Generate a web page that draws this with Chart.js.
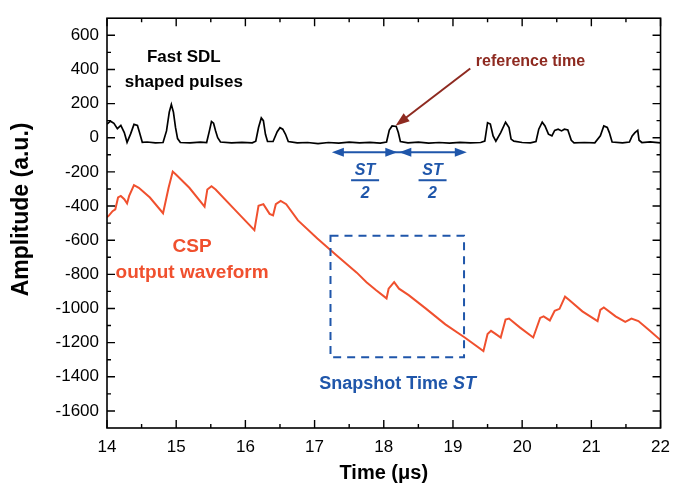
<!DOCTYPE html>
<html>
<head>
<meta charset="utf-8">
<script src="https://cdn.jsdelivr.net/npm/chart.js@4.4.1/dist/chart.umd.min.js"></script>
<style>
html, body { margin: 0; padding: 0; background: #fff; }
</style>
</head>
<body>
<canvas id="myChart" width="679" height="487"></canvas>
<script>
// Dados (tempo em µs, amplitude em u.a.)
const sdlTime = [14.00, 14.05, 14.10, 14.15, 14.20, 14.25, 14.29, 14.34, 14.39, 14.44, 14.47, 14.51, 14.58, 14.70, 14.81, 14.86, 14.90, 14.93, 14.96, 14.99, 15.02, 15.06,
    15.20, 15.35, 15.44, 15.48, 15.51, 15.54, 15.57, 15.60, 15.64, 15.80, 15.95, 16.10, 16.15, 16.19, 16.23, 16.26, 16.29, 16.32, 16.40, 16.46, 16.50, 16.54, 16.58,
    16.62, 16.75, 16.90, 17.05, 17.20, 17.35, 17.50, 17.65, 17.80, 17.95, 18.04, 18.08, 18.12, 18.18, 18.21, 18.24, 18.35, 18.50, 18.65, 18.80,
    18.95, 19.10, 19.25, 19.40, 19.46, 19.50, 19.54, 19.58, 19.62, 19.69, 19.76, 19.81, 19.84, 19.88, 20.00, 20.12, 20.20, 20.24, 20.29, 20.33,
    20.38, 20.43, 20.47, 20.52, 20.57, 20.61, 20.66, 20.71, 20.75, 20.90, 21.05, 21.13, 21.18, 21.23, 21.26, 21.30, 21.45, 21.55, 21.59, 21.63,
    21.67, 21.69, 21.73, 21.85, 22.00];
const sdlValues = [80, 97, 84, 53, 72, 30, -27, 21, 78, 72, 30, -27, -25, -30, -28, 40, 150, 195, 150, 60, -5, -28,
    -30, -26, -28, 40, 95, 85, 40, 0, -25, -30, -27, -30, -20, 60, 116, 100, 20, -22, -22, 35, 59, 50, 20,
    -22, -30, -28, -35, -28, -32, -26, -30, -27, -32, -25, 45, 69, 66, 30, -22, -30, -26, -32, -28,
    -32, -27, -30, -28, -20, 88, 80, 11, -20, 30, 91, 59, -8, -20, -28, -30, -22, 50, 91, 69,
    21, 11, 43, 50, 40, 50, 45, -15, -30, -28, -30, 11, 69, 60, 30, -25, -30, -25, 11, 30,
    43, -15, -28, -24, -30];

const cspTime = [14.00, 14.03, 14.08, 14.12, 14.16, 14.20, 14.25, 14.29, 14.32, 14.39, 14.46, 14.62, 14.81, 14.89, 14.95, 15.00, 15.19, 15.41, 15.45, 15.51,
    15.57, 15.86, 16.13, 16.19, 16.26, 16.35, 16.40, 16.44, 16.51, 16.59, 16.76, 17.04, 17.32, 17.61, 17.75, 17.89, 18.04, 18.07, 18.15, 18.22,
    18.36, 18.60, 18.89, 19.17, 19.44, 19.50, 19.55, 19.62, 19.69, 19.76, 19.81, 19.97, 20.16, 20.26, 20.31, 20.40, 20.47, 20.54, 20.62, 20.68,
    20.87, 21.09, 21.13, 21.18, 21.35, 21.49, 21.58, 21.68, 21.82, 22.00];
const cspValues = [-465, -455, -430, -420, -350, -341, -360, -385, -341, -278, -293, -350, -442, -293, -198, -217, -293, -404, -303, -284,
    -303, -427, -541, -398, -389, -446, -455, -389, -370, -389, -484, -590, -690, -790, -846, -893, -941, -884, -846, -884,
    -922, -998, -1093, -1170, -1250, -1150, -1131, -1150, -1170, -1065, -1059, -1112, -1170, -1055, -1046, -1070, -1013, -1002, -931, -950,
    -1017, -1074, -1008, -994, -1046, -1078, -1059, -1074, -1122, -1185];

const xTicks = [14, 15, 16, 17, 18, 19, 20, 21, 22];
const yTicks = [600, 400, 200, 0, -200, -400, -600, -800, -1000, -1200, -1400, -1600];

const FONT = "'Liberation Sans', Arial, Helvetica, sans-serif";
const RED = '#f0502e';
const BLUE = '#1f56aa';
const BROWN = '#8e2a20';

function toPoints(xs, ys) {
    return xs.map((v, i) => ({ x: v, y: ys[i] }));
}

// Anotações (em coordenadas dos dados)
const notes = {
    sdl: { x: 15.11, y1: 470, y2: 322 },
    refText: { x: 19.33, y: 445 },
    refArrow: { x0: 19.25, y0: 405, x1: 18.17, y1: 70 },
    halves: { y: -85, x0: 17.25, xm: 18.21, x1: 19.2 },
    box: { x0: 17.23, x1: 19.16, y0: -574, y1: -1286 },
    snap: { x: 18.2, y: -1440 },
    csp: { x: 15.23, y1: -640, y2: -792 },
    yTitle: { y: -420 }
};

function arrowHead(ctx, x0, y0, x1, y1, len, half) {
    const ang = Math.atan2(y1 - y0, x1 - x0);
    ctx.beginPath();
    ctx.moveTo(x1, y1);
    ctx.lineTo(x1 - len * Math.cos(ang) + half * Math.sin(ang), y1 - len * Math.sin(ang) - half * Math.cos(ang));
    ctx.lineTo(x1 - len * Math.cos(ang) - half * Math.sin(ang), y1 - len * Math.sin(ang) + half * Math.cos(ang));
    ctx.closePath();
    ctx.fill();
}

function halfLabel(ctx, cx, y) {
    const ty = y.getPixelForValue(notes.halves.y);
    ctx.font = 'italic bold 16px ' + FONT;
    ctx.textAlign = 'center';
    ctx.textBaseline = 'middle';
    ctx.fillText('ST', cx, ty + 18);
    ctx.fillRect(cx - 14, ty + 27, 28, 2);
    ctx.fillText('2', cx, ty + 41);
}

const framePlugin = {
    id: 'framePlugin',
    afterDatasetsDraw(chart) {
        const { ctx, chartArea: a, scales: { x, y } } = chart;
        ctx.save();

        // caixa tracejada
        const b = notes.box;
        ctx.strokeStyle = BLUE;
        ctx.lineWidth = 2;
        ctx.setLineDash([8, 6]);
        ctx.strokeRect(x.getPixelForValue(b.x0), y.getPixelForValue(b.y0),
            x.getPixelForValue(b.x1) - x.getPixelForValue(b.x0), y.getPixelForValue(b.y1) - y.getPixelForValue(b.y0));
        ctx.setLineDash([]);

        // moldura
        ctx.strokeStyle = '#000';
        ctx.lineWidth = 1.6;
        ctx.strokeRect(a.left, a.top, a.right - a.left, a.bottom - a.top);

        // marcas para dentro
        ctx.lineWidth = 1.4;
        ctx.beginPath();
        for (let v = 14; v <= 22; v += 0.5) {
            const px = x.getPixelForValue(v);
            const len = Number.isInteger(v) ? 8 : 4;
            ctx.moveTo(px, a.bottom); ctx.lineTo(px, a.bottom - len);
            ctx.moveTo(px, a.top); ctx.lineTo(px, a.top + len);
        }
        for (let v = -1600; v <= 600; v += 100) {
            const py = y.getPixelForValue(v);
            const len = v % 200 === 0 ? 8 : 4;
            ctx.moveTo(a.left, py); ctx.lineTo(a.left + len, py);
            ctx.moveTo(a.right, py); ctx.lineTo(a.right - len, py);
        }
        ctx.stroke();

        // título do eixo y
        ctx.save();
        ctx.translate(22, y.getPixelForValue(notes.yTitle.y));
        ctx.rotate(-Math.PI / 2);
        ctx.fillStyle = '#000';
        ctx.font = 'bold 23px ' + FONT;
        ctx.textAlign = 'center';
        ctx.textBaseline = 'middle';
        ctx.fillText('Amplitude (a.u.)', 0, 0);
        ctx.restore();

        // textos
        ctx.textAlign = 'center';
        ctx.textBaseline = 'middle';
        ctx.fillStyle = '#000';
        ctx.font = 'bold 17px ' + FONT;
        ctx.fillText('Fast SDL', x.getPixelForValue(notes.sdl.x), y.getPixelForValue(notes.sdl.y1));
        ctx.fillText('shaped pulses', x.getPixelForValue(notes.sdl.x), y.getPixelForValue(notes.sdl.y2));

        ctx.fillStyle = RED;
        ctx.font = 'bold 19px ' + FONT;
        ctx.fillText('CSP', x.getPixelForValue(notes.csp.x), y.getPixelForValue(notes.csp.y1));
        ctx.fillText('output waveform', x.getPixelForValue(notes.csp.x), y.getPixelForValue(notes.csp.y2));

        ctx.fillStyle = BROWN;
        ctx.strokeStyle = BROWN;
        ctx.font = 'bold 16px ' + FONT;
        ctx.textAlign = 'left';
        ctx.fillText('reference time', x.getPixelForValue(notes.refText.x), y.getPixelForValue(notes.refText.y));
        const r = notes.refArrow;
        const rx0 = x.getPixelForValue(r.x0), ry0 = y.getPixelForValue(r.y0);
        const rx1 = x.getPixelForValue(r.x1), ry1 = y.getPixelForValue(r.y1);
        ctx.lineWidth = 2;
        ctx.beginPath(); ctx.moveTo(rx0, ry0); ctx.lineTo(rx1 + (rx0 - rx1) * 0.1, ry1 + (ry0 - ry1) * 0.1); ctx.stroke();
        arrowHead(ctx, rx0, ry0, rx1, ry1, 14, 5);

        // setas ST/2
        const h = notes.halves;
        const hy = y.getPixelForValue(h.y);
        const hx0 = x.getPixelForValue(h.x0), hxm = x.getPixelForValue(h.xm), hx1 = x.getPixelForValue(h.x1);
        ctx.fillStyle = BLUE;
        ctx.strokeStyle = BLUE;
        ctx.lineWidth = 2;
        ctx.beginPath(); ctx.moveTo(hx0 + 8, hy); ctx.lineTo(hx1 - 8, hy); ctx.stroke();
        arrowHead(ctx, hxm, hy, hx0, hy, 12, 4.5);
        arrowHead(ctx, hx0, hy, hxm - 1, hy, 12, 4.5);
        arrowHead(ctx, hx1, hy, hxm + 1, hy, 12, 4.5);
        arrowHead(ctx, hxm, hy, hx1, hy, 12, 4.5);
        halfLabel(ctx, (hx0 + hxm) / 2, y);
        halfLabel(ctx, (hxm + hx1) / 2, y);

        // Snapshot Time ST
        const sx = x.getPixelForValue(notes.snap.x), sy = y.getPixelForValue(notes.snap.y);
        ctx.textAlign = 'left';
        ctx.font = 'bold 18px ' + FONT;
        const w1 = ctx.measureText('Snapshot Time ').width;
        ctx.font = 'italic bold 18px ' + FONT;
        const w2 = ctx.measureText('ST').width;
        ctx.font = 'bold 18px ' + FONT;
        ctx.fillText('Snapshot Time ', sx - (w1 + w2) / 2, sy);
        ctx.font = 'italic bold 18px ' + FONT;
        ctx.fillText('ST', sx - (w1 + w2) / 2 + w1, sy);

        ctx.restore();
    }
};

const data = {
    datasets: [{
        label: 'Fast SDL shaped pulses',
        data: toPoints(sdlTime, sdlValues),
        borderColor: '#000',
        borderWidth: 1.7,
        pointRadius: 0,
        tension: 0
    }, {
        label: 'CSP output waveform',
        data: toPoints(cspTime, cspValues),
        borderColor: RED,
        borderWidth: 2,
        pointRadius: 0,
        tension: 0
    }]
};

const options = {
    responsive: false,
    animation: false,
    devicePixelRatio: 1,
    layout: { padding: { top: 10, right: 10, left: 0, bottom: 0 } },
    plugins: { legend: { display: false }, tooltip: { enabled: false } },
    scales: {
        x: {
            type: 'linear',
            min: 14,
            max: 22,
            afterBuildTicks: s => { s.ticks = xTicks.map(v => ({ value: v })); },
            afterFit: s => { s.height = 59; },
            grid: { display: false, drawTicks: false },
            border: { display: false },
            ticks: { padding: 9, color: '#000', font: { family: FONT, size: 17 }, callback: v => String(v) },
            title: { display: true, text: 'Time (μs)', color: '#000', font: { family: FONT, size: 20, weight: 'bold' }, padding: { top: 0, bottom: 2 } }
        },
        y: {
            type: 'linear',
            min: -1700,
            max: 700,
            afterBuildTicks: s => { s.ticks = yTicks.map(v => ({ value: v })); },
            afterFit: s => { s.width = 107; },
            grid: { display: false, drawTicks: false },
            border: { display: false },
            ticks: { padding: 8, color: '#000', font: { family: FONT, size: 17 }, callback: v => String(v) },
            title: { display: false }
        }
    }
};

const ctx = document.getElementById('myChart').getContext('2d');
const myChart = new Chart(ctx, {
    type: 'line',
    data: data,
    options: options,
    plugins: [framePlugin]
});
</script>
</body>
</html>
